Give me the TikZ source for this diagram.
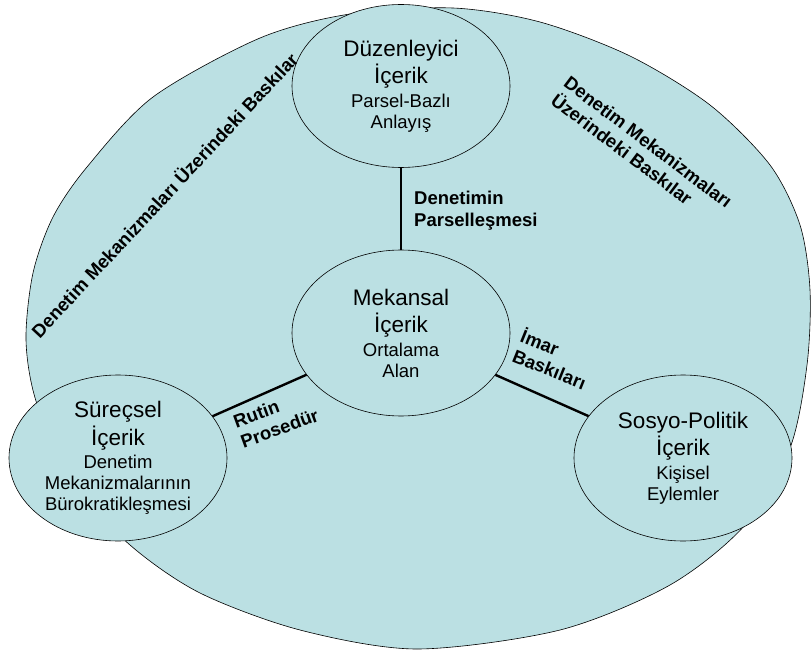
\documentclass[tikz,border=0pt]{standalone}
\usepackage{fontspec}
\setmainfont{Liberation Sans}
\usetikzlibrary{shapes.geometric}
\definecolor{pptblue}{HTML}{BBE0E3}
\newcommand{\bigf}{\fontsize{22.5}{27.5}\selectfont}
\newcommand{\subf}{\fontsize{18.5}{21}\selectfont}
\newcommand{\labf}{\fontsize{18.5}{21.5}\selectfont\bfseries}

\begin{document}
\begin{tikzpicture}[x=1pt, y=-1pt,
		content/.style={ellipse, draw, line width=0.6pt, fill=pptblue, minimum width=218pt, minimum height=166pt, inner sep=0pt, align=center, font=\bigf},
		link/.style={line width=2.4pt},
		pressure/.style={font=\labf, inner sep=0pt, align=left}]
		%%%%% START %%%%%
		
		\useasboundingbox (0, 0) rectangle (811, 655);
		
		\draw[line width=0.6pt, fill=pptblue] plot[smooth cycle] coordinates {(453, 8) (540, 22) (630, 56) (710, 105) (770, 165) (800, 225) (810, 290) (807, 365) (790, 448) (745, 525) (670, 585) (560, 630) (417, 649) (300, 630) (200, 593) (130, 545) (70, 480) (36, 401) (26, 340) (33, 273) (53, 217) (87, 167) (153, 97) (260, 38) (350, 14)};
		
		\node[content, minimum height=163pt] (duz) at (401, 86) {Düzenleyici\\İçerik\\[-4pt]{\subf Parsel-Bazlı}\\[-6.5pt]{\subf Anlayış}};
		\node[content] (mek) at (401, 333) {Mekansal\\İçerik\\[-4pt]{\subf Ortalama}\\[-6.5pt]{\subf Alan}};
		\node[content] (sur) at (118, 458) {Süreçsel\\İçerik\\[-4pt]{\subf Denetim}\\[-6.5pt]{\subf Mekanizmalarının}\\[-6.5pt]{\subf Bürokratikleşmesi}};
		\node[content] (sos) at (683, 458) {Sosyo-Politik\\İçerik\\[-4pt]{\subf Kişisel}\\[-6.5pt]{\subf Eylemler}};
		
		\draw[link] (duz) -- (mek);
		\draw[link] (sur) -- (mek);
		\draw[link] (mek) -- (sos);
		
		% base = last line
		\node[pressure, anchor=base west] (parsel) at (414, 226) {Denetimin\\Parselleşmesi};
		\node[pressure, anchor=base west, rotate=20] (rutin) at (243.5, 448.5) {Rutin\\Prosedür};
		\node[pressure, anchor=base west, rotate=-22] (imar) at (511, 361) {İmar\\Baskıları};
		\node[pressure, anchor=base west, rotate=-37] (baski1) at (549.5, 103) {Denetim Mekanizmaları\\Üzerindeki Baskılar};
		\node[pressure, anchor=base, rotate=47] (baski2) at (169.5, 200) {Denetim Mekanizmaları Üzerindeki Baskılar};
		
		%%%%% END %%%%%
	\end{tikzpicture}
\end{document}
